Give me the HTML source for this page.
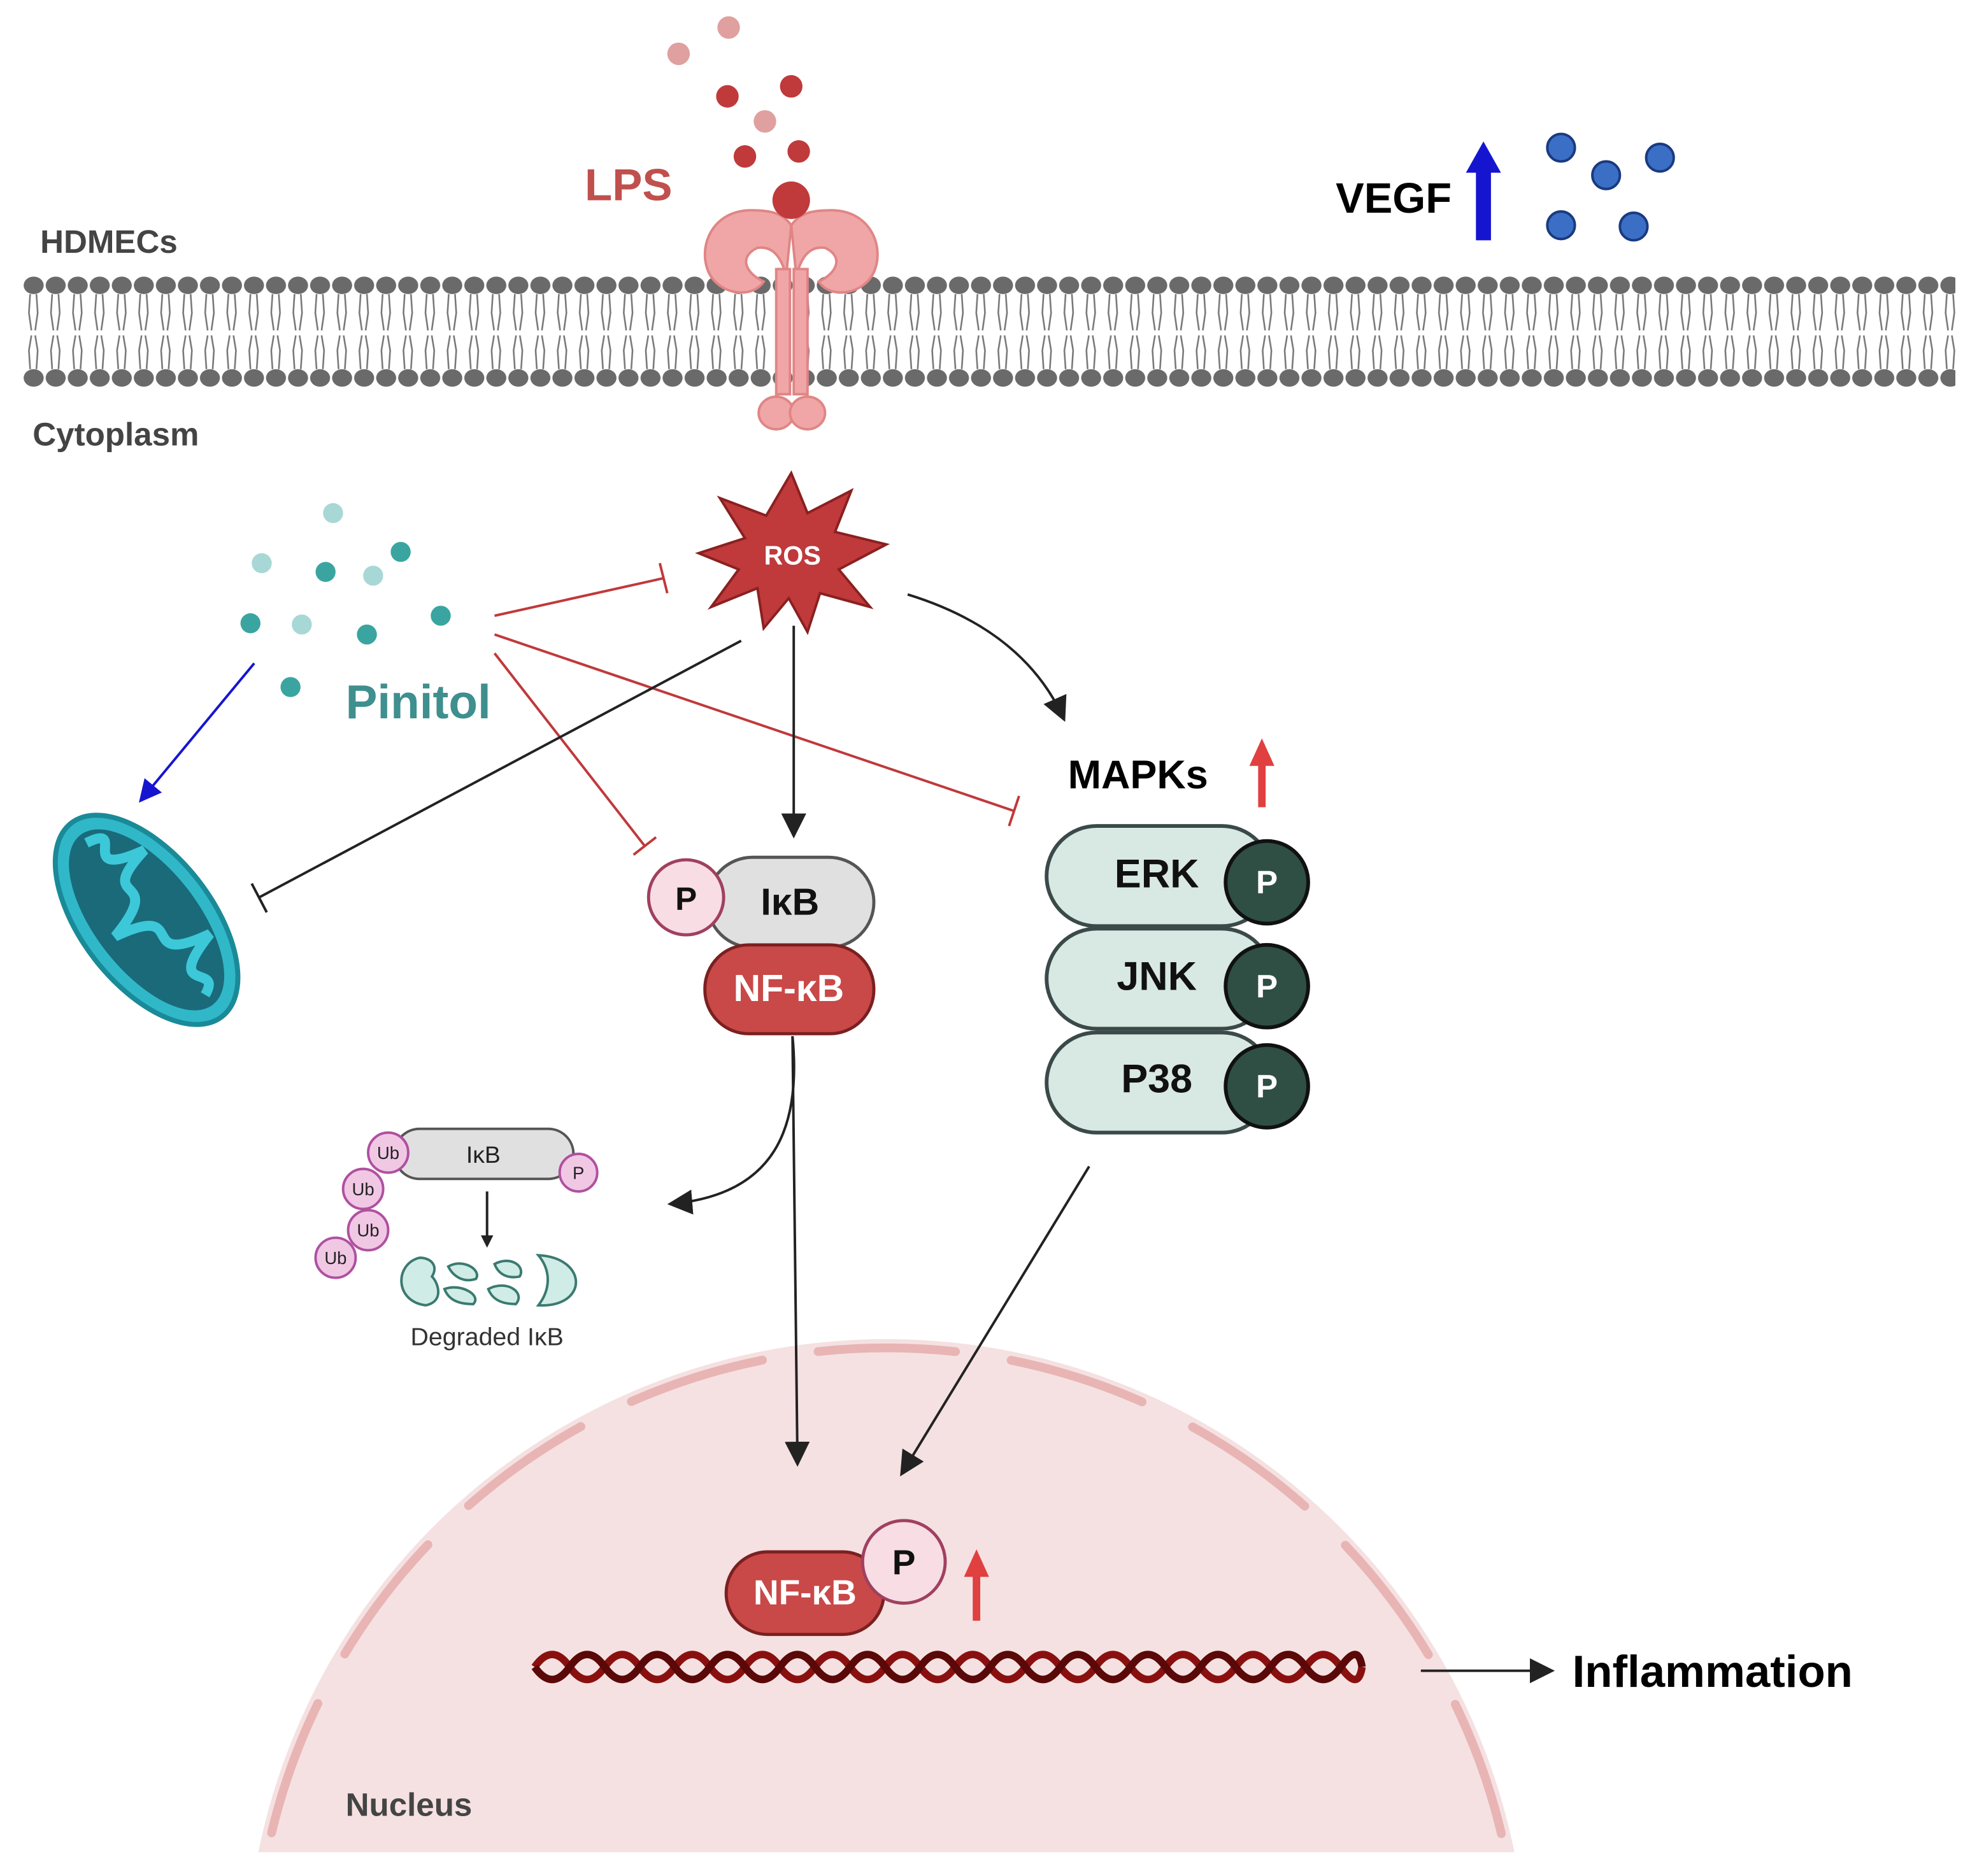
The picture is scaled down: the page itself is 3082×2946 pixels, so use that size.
<!DOCTYPE html>
<html><head><meta charset="utf-8"><style>
html,body{margin:0;padding:0;background:#fff;width:3082px;height:2946px;overflow:hidden}
svg{display:block}
text{font-family:"Liberation Sans",sans-serif}
</style></head><body>
<svg width="3082" height="2946" viewBox="0 0 1568 1499" xmlns="http://www.w3.org/2000/svg">
<defs>
<pattern id="mem" x="18" y="0" width="17.6" height="1499" patternUnits="userSpaceOnUse">
<ellipse cx="8.8" cy="228" rx="8" ry="7" fill="#6a6a6a"/>
<ellipse cx="8.8" cy="302" rx="8" ry="7" fill="#6a6a6a"/>
<path d="M6 235 L5 250 L7 264 M11 235 L12 250 L10 264 M6 295 L5 280 L7 268 M11 295 L12 280 L10 268" stroke="#777" stroke-width="1.3" fill="none"/>
</pattern>
<marker id="ab" markerWidth="10" markerHeight="10" refX="8" refY="5" orient="auto" markerUnits="userSpaceOnUse" viewBox="0 0 10 10"><path d="M0 0 L10 5 L0 10 z" fill="#222"/></marker>
<marker id="abig" viewBox="0 0 10 10" refX="9" refY="5" markerWidth="20" markerHeight="20" orient="auto" markerUnits="userSpaceOnUse"><path d="M0 0 L10 5 L0 10 z" fill="#222"/></marker>
<marker id="ablue" viewBox="0 0 10 10" refX="9" refY="5" markerWidth="18" markerHeight="18" orient="auto" markerUnits="userSpaceOnUse"><path d="M0 0 L10 5 L0 10 z" fill="#1515d0"/></marker>
<clipPath id="nc"><rect x="0" y="0" width="1568" height="1480"/></clipPath>
</defs>
<rect width="1568" height="1499" fill="#fff"/>
<!-- Nucleus -->
<g clip-path="url(#nc)">
<circle cx="708" cy="1582" r="512" fill="#f5e1e1"/>
<circle cx="708" cy="1582" r="505" fill="none" stroke="#e8b4b4" stroke-width="7" stroke-dasharray="110 45" stroke-linecap="round"/>
</g>
<text x="276" y="1451" font-size="26" font-weight="bold" fill="#444">Nucleus</text>
<!-- membrane -->
<rect x="18" y="218" width="1544" height="92" fill="url(#mem)"/>
<!-- LPS dots -->
<g fill="#c0393b">
<circle cx="582" cy="22" r="9" fill="#e0a0a0"/><circle cx="542" cy="43" r="9" fill="#e0a0a0"/>
<circle cx="581" cy="77" r="9"/><circle cx="632" cy="69" r="9"/><circle cx="611" cy="97" r="9" fill="#e0a0a0"/>
<circle cx="595" cy="125" r="9"/><circle cx="638" cy="121" r="9"/>
</g>
<!-- receptor -->
<g fill="#f0a6a6" stroke="#e08585" stroke-width="2">
<path d="M600 168 C570 168 558 195 565 215 C572 235 600 240 610 225 C595 218 590 205 605 198 C620 196 625 210 628 220 L632 180 C625 170 615 168 600 168 z"/>
<path d="M664 168 C694 168 706 195 699 215 C692 235 664 240 654 225 C669 218 674 205 659 198 C644 196 639 210 636 220 L632 180 C639 170 649 168 664 168 z"/>
<rect x="620" y="215" width="11" height="100"/><rect x="634" y="215" width="11" height="100"/>
<ellipse cx="620" cy="330" rx="14" ry="13"/><ellipse cx="645" cy="330" rx="14" ry="13"/>
</g>
<circle cx="632" cy="160" r="15" fill="#c0393b"/>
<text x="467" y="160" font-size="36" font-weight="bold" fill="#c0504d">LPS</text>
<text x="32" y="202" font-size="26" font-weight="bold" fill="#444">HDMECs</text>
<text x="26" y="356" font-size="26" font-weight="bold" fill="#444">Cytoplasm</text>
<!-- VEGF -->
<text x="1067" y="170" font-size="34" font-weight="bold" fill="#000">VEGF</text>
<path d="M1179 192 L1179 138 L1171 138 L1185 113 L1199 138 L1191 138 L1191 192 z" fill="#1515d0"/>
<g fill="#3b6fc6" stroke="#1a3a80" stroke-width="2">
<circle cx="1247" cy="118" r="11"/><circle cx="1283" cy="140" r="11"/><circle cx="1326" cy="126" r="11"/><circle cx="1247" cy="180" r="11"/><circle cx="1305" cy="181" r="11"/>
</g>
<!-- ROS -->
<polygon fill="#c0393b" stroke="#8a2020" stroke-width="2" points="632,378 645,410 680,392 667,425 708,435 670,455 695,485 655,474 645,505 630,478 610,502 605,470 568,485 590,455 558,442 595,430 575,398 612,412" />
<text x="633" y="451" font-size="21" font-weight="bold" fill="#fff" text-anchor="middle">ROS</text>
<!-- Pinitol dots -->
<g>
<circle cx="266" cy="410" r="8" fill="#a8d8d6"/><circle cx="209" cy="450" r="8" fill="#a8d8d6"/><circle cx="260" cy="457" r="8" fill="#3aa5a0"/>
<circle cx="298" cy="460" r="8" fill="#a8d8d6"/><circle cx="320" cy="441" r="8" fill="#3aa5a0"/><circle cx="200" cy="498" r="8" fill="#3aa5a0"/>
<circle cx="241" cy="499" r="8" fill="#a8d8d6"/><circle cx="293" cy="507" r="8" fill="#3aa5a0"/><circle cx="352" cy="492" r="8" fill="#3aa5a0"/><circle cx="232" cy="549" r="8" fill="#3aa5a0"/>
</g>
<text x="276" y="574" font-size="38" font-weight="bold" fill="#3f8f8f">Pinitol</text>
<!-- mitochondrion -->
<g transform="translate(117,735) rotate(52)">
<ellipse rx="98" ry="52" fill="#30b8c8" stroke="#1a8a98" stroke-width="4"/>
<ellipse rx="86" ry="41" fill="#1a6a7a"/>
<path d="M-78 0 C-70 -38 -60 28 -45 -33 C-35 28 -20 -38 -5 28 C10 -38 25 33 40 -33 C55 28 65 -28 76 0" stroke="#3cc8d8" stroke-width="8" fill="none"/>
</g>
<!-- inhibitions -->
<g stroke="#c0393b" stroke-width="2" fill="none">
<line x1="395" y1="492" x2="530" y2="462"/><line x1="527" y1="450" x2="533" y2="474"/>
<line x1="395" y1="507" x2="810" y2="648"/><line x1="814" y1="636" x2="806" y2="660"/>
<line x1="395" y1="522" x2="515" y2="676"/><line x1="506" y1="683" x2="524" y2="669"/>
</g>
<line x1="203" y1="530" x2="112" y2="640" stroke="#1515d0" stroke-width="2" marker-end="url(#ablue)"/>
<line x1="592" y1="512" x2="207" y2="717" stroke="#222" stroke-width="2"/>
<line x1="201" y1="706" x2="213" y2="729" stroke="#222" stroke-width="2"/>
<line x1="634" y1="500" x2="634" y2="668" stroke="#222" stroke-width="2" marker-end="url(#abig)"/>
<path d="M725 475 C790 495 830 530 850 575" stroke="#222" stroke-width="2" fill="none" marker-end="url(#abig)"/>
<!-- MAPKs -->
<text x="853" y="630" font-size="32" font-weight="bold" fill="#000">MAPKs</text>
<path d="M1005 645 L1005 612 L998 612 L1008 590 L1018 612 L1011 612 L1011 645 z" fill="#e04040"/>
<g stroke="#3a4a48" stroke-width="3" fill="#d8e8e2">
<rect x="836" y="660" width="180" height="80" rx="40"/>
<rect x="836" y="742" width="180" height="80" rx="40"/>
<rect x="836" y="825" width="180" height="80" rx="40"/>
</g>
<g font-size="32" font-weight="bold" fill="#111" text-anchor="middle">
<text x="924" y="709">ERK</text><text x="924" y="791">JNK</text><text x="924" y="873">P38</text>
</g>
<g fill="#2f4f44" stroke="#111" stroke-width="3">
<circle cx="1012" cy="705" r="33"/><circle cx="1012" cy="788" r="33"/><circle cx="1012" cy="868" r="33"/>
</g>
<g font-size="26" font-weight="bold" fill="#fff" text-anchor="middle">
<text x="1012" y="714">P</text><text x="1012" y="797">P</text><text x="1012" y="877">P</text>
</g>
<!-- IkB NF-kB -->
<rect x="565" y="685" width="133" height="72" rx="36" fill="#e0e0e0" stroke="#555" stroke-width="2.5"/>
<text x="631" y="731" font-size="30" font-weight="bold" text-anchor="middle" fill="#111">IκB</text>
<circle cx="548" cy="717" r="30" fill="#f8dde5" stroke="#a04060" stroke-width="2.5"/>
<text x="548" y="727" font-size="26" font-weight="bold" text-anchor="middle" fill="#111">P</text>
<rect x="563" y="755" width="135" height="71" rx="35" fill="#c94848" stroke="#7a2020" stroke-width="2.5"/>
<text x="630" y="800" font-size="30" font-weight="bold" text-anchor="middle" fill="#fff">NF-κB</text>
<!-- arrows down -->
<path d="M633 828 C640 900 620 955 535 962" stroke="#222" stroke-width="2" fill="none" marker-end="url(#abig)"/>
<line x1="633" y1="828" x2="637" y2="1170" stroke="#222" stroke-width="2" marker-end="url(#abig)"/>
<line x1="870" y1="932" x2="720" y2="1178" stroke="#222" stroke-width="2" marker-end="url(#abig)"/>
<!-- Ub complex -->
<rect x="315" y="902" width="143" height="40" rx="20" fill="#e0e0e0" stroke="#555" stroke-width="2"/>
<text x="386" y="929" font-size="19" text-anchor="middle" fill="#222">IκB</text>
<g fill="#f0c8e4" stroke="#b050a0" stroke-width="2">
<circle cx="462" cy="937" r="15"/><circle cx="310" cy="921" r="16"/><circle cx="290" cy="950" r="16"/><circle cx="294" cy="983" r="16"/><circle cx="268" cy="1005" r="16"/>
</g>
<g font-size="14" text-anchor="middle" fill="#222">
<text x="462" y="942">P</text><text x="310" y="926">Ub</text><text x="290" y="955">Ub</text><text x="294" y="988">Ub</text><text x="268" y="1010">Ub</text>
</g>
<line x1="389" y1="952" x2="389" y2="995" stroke="#222" stroke-width="2" marker-end="url(#ab)"/>
<g fill="#d0ece6" stroke="#3a7a70" stroke-width="2">
<path d="M335 1005 C315 1010 315 1040 340 1043 C355 1040 350 1025 345 1020 C350 1012 345 1005 335 1005 z"/>
<path d="M358 1012 C370 1005 385 1015 380 1022 C370 1025 362 1020 358 1012 z M355 1030 C368 1025 385 1035 378 1042 C365 1042 358 1038 355 1030z"/>
<path d="M395 1010 C408 1003 420 1012 415 1020 C405 1022 398 1018 395 1010 z M390 1030 C405 1022 420 1033 412 1042 C400 1042 393 1038 390 1030z"/>
<path d="M430 1003 C470 1005 470 1045 430 1043 C440 1030 440 1015 430 1003 z"/>
</g>
<text x="389" y="1075" font-size="20" text-anchor="middle" fill="#333">Degraded IκB</text>
<!-- DNA -->
<g fill="none" stroke-width="6">
<path d="M427 1332 Q441 1312 455 1332 T483 1332 T511 1332 T539 1332 T567 1332 T595 1332 T623 1332 T651 1332 T679 1332 T707 1332 T735 1332 T763 1332 T791 1332 T819 1332 T847 1332 T875 1332 T903 1332 T931 1332 T959 1332 T987 1332 T1015 1332 T1043 1332 T1071 1332 T1088 1332" stroke="#8a1010"/>
<path d="M427 1332 Q441 1352 455 1332 T483 1332 T511 1332 T539 1332 T567 1332 T595 1332 T623 1332 T651 1332 T679 1332 T707 1332 T735 1332 T763 1332 T791 1332 T819 1332 T847 1332 T875 1332 T903 1332 T931 1332 T959 1332 T987 1332 T1015 1332 T1043 1332 T1071 1332 T1088 1332" stroke="#5a0808"/>
</g>
<rect x="580" y="1240" width="126" height="66" rx="33" fill="#c94848" stroke="#7a2020" stroke-width="2.5"/>
<text x="643" y="1282" font-size="28" font-weight="bold" text-anchor="middle" fill="#fff">NF-κB</text>
<circle cx="722" cy="1248" r="33" fill="#f8dde5" stroke="#a04060" stroke-width="2.5"/>
<text x="722" y="1258" font-size="28" font-weight="bold" text-anchor="middle" fill="#111">P</text>
<path d="M777 1295 L777 1260 L770 1260 L780 1238 L790 1260 L783 1260 L783 1295 z" fill="#e04040"/>
<line x1="1135" y1="1335" x2="1240" y2="1335" stroke="#222" stroke-width="2" marker-end="url(#abig)"/>
<text x="1256" y="1348" font-size="36" font-weight="bold" fill="#000">Inflammation</text>
</svg>
</body></html>
